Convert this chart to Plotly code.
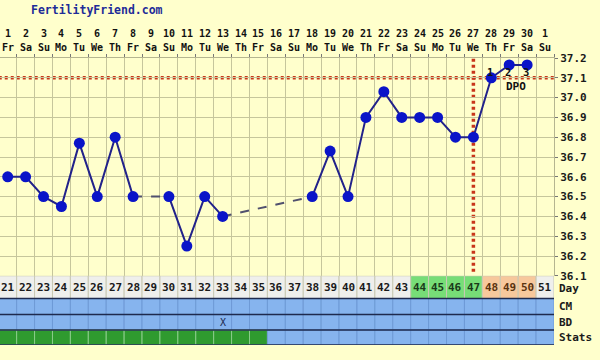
import plotly.graph_objects as go

# ---------------- data ----------------
days = list(range(1, 32))
date_labels = ["1", "2", "3", "4", "5", "6", "7", "8", "9", "10", "11", "12", "13", "14", "15",
               "16", "17", "18", "19", "20", "21", "22", "23", "24", "25", "26", "27", "28",
               "29", "30", "1"]
weekday_labels = ["Fr", "Sa", "Su", "Mo", "Tu", "We", "Th", "Fr", "Sa", "Su", "Mo", "Tu", "We",
                  "Th", "Fr", "Sa", "Su", "Mo", "Tu", "We", "Th", "Fr", "Sa", "Su", "Mo", "Tu",
                  "We", "Th", "Fr", "Sa", "Su"]
cycle_days = [21, 22, 23, 24, 25, 26, 27, 28, 29, 30, 31, 32, 33, 34, 35, 36, 37, 38, 39, 40,
              41, 42, 43, 44, 45, 46, 47, 48, 49, 50, 51]
temps = [36.6, 36.6, 36.5, 36.45, 36.77, 36.5, 36.8, 36.5, None, 36.5, 36.25, 36.5, 36.4,
         None, None, None, None, 36.5, 36.73, 36.5, 36.9, 37.03, 36.9, 36.9, 36.9, 36.8,
         36.8, 37.1, 37.165, 37.165, None]
# day-row phase: 'n' normal, 'f' fertile, 'l' luteal
day_phase = ["n"] * 23 + ["f"] * 4 + ["l"] * 3 + ["n"]
stats_days = [1, 2, 3, 4, 5, 6, 7, 8, 9, 10, 11, 12, 13, 14, 15]
bd_days = [13]
coverline = 37.1
ovulation_day = 27
dpo_days = [28, 29, 30]
dpo_labels = ["1", "2", "3"]
y_ticks = [36.1, 36.2, 36.3, 36.4, 36.5, 36.6, 36.7, 36.8, 36.9, 37.0, 37.1, 37.2]
row_names = ["Day", "CM", "BD", "Stats"]
row_edges = [69.2, 46.5, 30.5, 15.0, 0.0]   # y2 units (px-like), top to bottom

# ---------------- styles ----------------
BG = "#FFFFCC"
GRID = "#C6C69C"
FONT = "DejaVu Sans Mono"
RED = "#C8361A"
phase_fill = {"n": "#EFEFEC", "f": "#77DD77", "l": "#F7C89C"}
phase_text = {"n": "#1a1a1a", "f": "#1a3a1a", "l": "#5a3410"}

fig = go.Figure()

# dashed connectors across missing days
prev = None
for i, t in enumerate(temps):
    if t is None:
        continue
    if prev is not None and i - prev > 1:
        fig.add_trace(go.Scatter(x=[days[prev], days[i]], y=[temps[prev], t], mode="lines",
                                 line=dict(color="#50506e", width=2, dash="dash"),
                                 hoverinfo="skip", showlegend=False, xaxis="x", yaxis="y"))
    prev = i

# main temperature line
fig.add_trace(go.Scatter(x=days, y=temps, mode="lines+markers", connectgaps=False,
                         line=dict(color="#22228a", width=2),
                         marker=dict(size=11, color="#0a14c8", line=dict(width=0)),
                         showlegend=False, xaxis="x", yaxis="y"))

# invisible trace on table axes to establish them
fig.add_trace(go.Scatter(x=[days[0]], y=[0], mode="markers", marker=dict(opacity=0),
                         showlegend=False, hoverinfo="skip", xaxis="x2", yaxis="y2"))

shapes = []
# coverline and ovulation line
shapes.append(dict(type="line", xref="x", yref="y", x0=0.5, x1=31.5, y0=coverline, y1=coverline,
                   line=dict(color=RED, width=3.5, dash="3px,3px"), layer="below"))
shapes.append(dict(type="line", xref="x", yref="y", x0=ovulation_day, x1=ovulation_day,
                   y0=36.12, y1=37.2, line=dict(color=RED, width=3.5, dash="3px,3px"),
                   layer="below"))

# table cells
for d, ph in zip(days, day_phase):
    shapes.append(dict(type="rect", xref="x2", yref="y2", x0=d - 0.5, x1=d + 0.5,
                       y0=row_edges[1], y1=row_edges[0], fillcolor=phase_fill[ph],
                       line=dict(color="#C9C9B4", width=1), layer="below"))
    for r in range(1, 4):
        fill = "#86B4EE"
        lc = "#6E9AD6"
        if r == 3 and d in stats_days:
            fill = "#2F9A2F"
            lc = "#8ACC8A"
        shapes.append(dict(type="rect", xref="x2", yref="y2", x0=d - 0.5, x1=d + 0.5,
                           y0=row_edges[r + 1], y1=row_edges[r], fillcolor=fill,
                           line=dict(color=lc, width=1), layer="below"))
for yv in row_edges[1:]:
    shapes.append(dict(type="line", xref="x2", yref="y2", x0=0.5, x1=31.5, y0=yv, y1=yv,
                       line=dict(color="#1e2a4e", width=1.3)))

annotations = []
# title
annotations.append(dict(text="FertilityFriend.com", xref="paper", yref="paper", x=0, y=1,
                        xshift=29, yshift=48, xanchor="left", yanchor="middle", showarrow=False,
                        font=dict(family=FONT, size=11.5, color="#1e2c98", weight="bold")))
# top date / weekday labels
for d, dl, wl in zip(days, date_labels, weekday_labels):
    annotations.append(dict(text=dl, xref="x", yref="paper", x=d, y=1, yshift=25,
                            showarrow=False, yanchor="middle",
                            font=dict(family=FONT, size=10, color="#111", weight="bold")))
    annotations.append(dict(text=wl, xref="x", yref="paper", x=d, y=1, yshift=11,
                            showarrow=False, yanchor="middle",
                            font=dict(family=FONT, size=10, color="#111", weight="bold")))
# cycle day labels
for d, c, ph in zip(days, cycle_days, day_phase):
    annotations.append(dict(text=str(c), xref="x2", yref="y2", x=d,
                            y=(row_edges[0] + row_edges[1]) / 2, showarrow=False,
                            font=dict(family=FONT, size=11, color=phase_text[ph], weight="bold")))
# BD marks
for d in bd_days:
    annotations.append(dict(text="X", xref="x2", yref="y2", x=d,
                            y=(row_edges[2] + row_edges[3]) / 2, showarrow=False,
                            font=dict(family=FONT, size=10, color="#1e2a4e")))
# row names
for i, name in enumerate(row_names):
    annotations.append(dict(text=name, xref="paper", yref="y2", x=1, xshift=3, xanchor="left",
                            y=(row_edges[i] + row_edges[i + 1]) / 2 - (1.5 if i == 0 else 0),
                            showarrow=False,
                            font=dict(family=FONT, size=11, color="#1a1a1a", weight="bold")))
# DPO labels
for d, lab in zip(dpo_days, dpo_labels):
    annotations.append(dict(text=lab, xref="x", yref="y", x=d, y=37.13, xshift=-1,
                            showarrow=False,
                            font=dict(family=FONT, size=10.5, color="#111", weight="bold")))
annotations.append(dict(text="DPO", xref="x", yref="y", x=29.4, y=37.055, showarrow=False,
                        font=dict(family=FONT, size=11, color="#111", weight="bold")))

split = (row_edges[0]) / 287.0

fig.update_layout(
    width=600, height=360,
    margin=dict(l=0, r=46, t=58, b=15, pad=0),
    paper_bgcolor=BG, plot_bgcolor=BG,
    shapes=shapes, annotations=annotations, showlegend=False,
    xaxis=dict(range=[0.57, 31.5], domain=[0, 1], anchor="y", side="top",
               tickmode="linear", tick0=0.5, dtick=1, showticklabels=False,
               ticks="outside", ticklen=3, tickcolor="#777",
               showgrid=True, gridcolor=GRID, gridwidth=1, zeroline=False,
               showline=True, linecolor="#B5B590", mirror=False),
    yaxis=dict(range=[36.1, 37.2], domain=[split, 1], anchor="x", side="right",
               tickmode="array", tickvals=y_ticks, ticktext=[f"{v:.1f}" for v in y_ticks],
               ticks="outside", ticklen=3, tickcolor="#777",
               tickfont=dict(family=FONT, size=11, color="#1a1a1a", weight="bold"),
               showgrid=True, gridcolor=GRID, gridwidth=1, zeroline=False,
               showline=True, linecolor="#B5B590"),
    xaxis2=dict(range=[0.57, 31.5], domain=[0, 1], anchor="y2", matches="x",
                showticklabels=False, showgrid=False, zeroline=False, ticks=""),
    yaxis2=dict(range=[0, row_edges[0]], domain=[0, split], anchor="x2",
                showticklabels=False, showgrid=False, zeroline=False, ticks=""),
)

fig.write_html("out.html")
